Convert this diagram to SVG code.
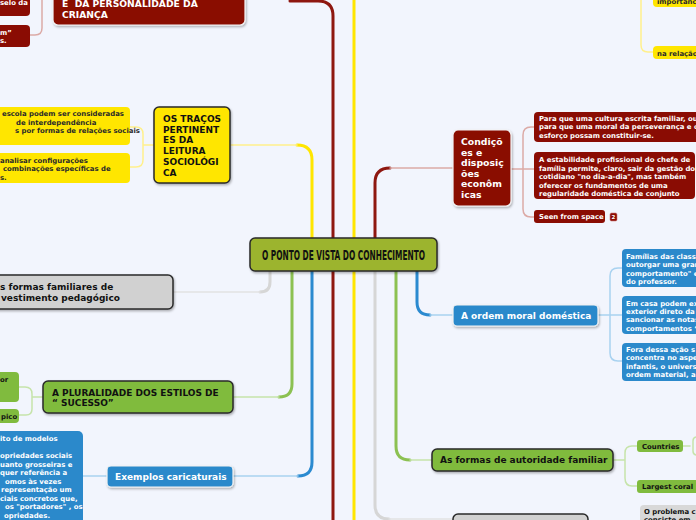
<svg xmlns="http://www.w3.org/2000/svg" width="696" height="520" viewBox="0 0 696 520">
<defs>
<filter id="sh" x="-10%" y="-10%" width="130%" height="140%"><feDropShadow dx="1" dy="1.5" stdDeviation="1" flood-color="#000" flood-opacity="0.3"/></filter>
<style>
.t{font-family:"DejaVu Sans",Verdana,sans-serif;font-weight:bold}
.m{font-size:9px}
.s{font-size:6.9px}
.w{fill:#fff}
.k{fill:#111}
.d{fill:#2a2a2a}
.c{fill:none;stroke-linecap:round}
.yT{stroke:#ffe600;stroke-width:3}
.yL{stroke:#fff08c;stroke-width:1.5}
.rT{stroke:#8e1710;stroke-width:3}
.rL{stroke:#dcaaa6;stroke-width:1.5}
.gT{stroke:#8cc152;stroke-width:3}
.gL{stroke:#c6e4aa;stroke-width:1.5}
.bT{stroke:#2b8ad0;stroke-width:3}
.bL{stroke:#a9d2f0;stroke-width:1.5}
.aT{stroke:#d6d6d6;stroke-width:3}
.aL{stroke:#e2e2e2;stroke-width:1.5}
.red{fill:#8a0c03}
.yel{fill:#ffe600}
.grn{fill:#80bb3e}
.blu{fill:#2b89cb}
.gry{fill:#d1d1d1}
.mainb{stroke:#2a2a2a;stroke-width:1.5}
.mainw{stroke:#f4f4f4;stroke-width:1.2}
</style>
</defs>
<rect x="0" y="0" width="696" height="520" fill="#f2f5fd"/>

<g id="connectors">
  <!-- through lines -->
  <path class="c rT" d="M290,1 H318 Q333,1 333,16 V522"/>
  <path class="c yT" d="M354,-2 V522"/>
  <!-- central branches -->
  <path class="c yT" d="M312,238 V160 Q312,145 297,145"/>
  <path class="c yL" d="M297,145 H230"/>
  <path class="c rT" d="M375,238 V183 Q375,168 390,168"/>
  <path class="c rL" d="M390,168 H453"/>
  <path class="c aT" d="M270,271 V282 Q270,292 260,292"/>
  <path class="c aL" d="M260,292 H173"/>
  <path class="c gT" d="M292,271 V384 Q292,397 279,397"/>
  <path class="c gL" d="M279,397 H233"/>
  <path class="c bT" d="M312,271 V462 Q312,476 298,476"/>
  <path class="c bL" d="M298,476 H233"/>
  <path class="c gT" d="M396,271 V446 Q396,460 410,460"/>
  <path class="c gL" d="M410,460 H432"/>
  <path class="c bT" d="M417,271 V302 Q417,315 430,315"/>
  <path class="c bL" d="M430,315 H453"/>
  <path class="c aT" d="M375,271 V505 Q375,519 389,519"/>
  <path class="c aL" d="M389,519 H453"/>
  <!-- child brackets -->
  <path class="c rL" d="M42,-2 V28 Q42,35 35,35 H30"/>
  <path class="c yL" d="M154,145 H143 M143,145 V134 Q143,127 136,127 H130 M143,145 V160 Q143,167 136,167 H130"/>
  <path class="c gL" d="M43,397 H32 M32,397 V394 Q32,387 25,387 H19 M32,397 V409 Q32,415 26,415 H19"/>
  <path class="c bL" d="M107,476 H83"/>
  <path class="c yL" d="M641,-2 V45 Q641,52 648,52 H653"/>
  <path class="c rL" d="M511,169 H534 M523,169 V135 Q523,127 531,127 H534 M523,169 V209 Q523,217 531,217 H534"/>
  <path class="c bL" d="M598,315 H622 M610,315 V276 Q610,268 618,268 H622 M610,315 V353 Q610,361 618,361 H622"/>
  <path class="c gL" d="M613,460 H625 M625,460 V453 Q625,446 632,446 H637 M625,460 V478 Q625,486 632,486 H637"/>
  <path class="c gL" d="M683,446 H690 M697,437 Q693,437 693,441 V451 Q693,455 697,455"/>
</g>

<g id="central">
  <rect x="250" y="238" width="187" height="33" rx="5" fill="#9cb42e" class="mainb" filter="url(#sh)"/>
  <text x="262" y="260" textLength="163" lengthAdjust="spacingAndGlyphs" style="font-family:'Liberation Sans Narrow','DejaVu Sans Condensed',sans-serif;font-weight:bold;font-size:13.5px;font-stretch:condensed" fill="#111">O PONTO DE VISTA DO CONHECIMENTO</text>
</g>

<g id="personalidade">
  <rect x="53" y="-20" width="192" height="45" rx="5" class="red mainw" filter="url(#sh)"/>
  <text class="t w" style="font-size:9.2px" x="62" y="7.3">E&#160; DA PERSONALIDADE DA</text>
  <text class="t w" style="font-size:9.2px" x="62" y="18.3">CRIANÇA</text>
</g>
<g id="selo">
  <rect x="-10" y="-10" width="40" height="26" rx="4" class="red"/>
  <text class="t s w" x="0" y="5">selo da</text>
</g>
<g id="m-node">
  <rect x="-10" y="25" width="40" height="22" rx="4" class="red"/>
  <text class="t s w" x="0" y="34.5">m”</text>
  <text class="t s w" x="0" y="42.5">s.</text>
</g>

<g id="tracos">
  <rect x="154" y="107" width="76" height="76" rx="5" class="yel mainb" filter="url(#sh)"/>
  <text class="t m k" x="163" y="121.7">OS TRAÇOS</text>
  <text class="t m k" x="163" y="132.5">PERTINENT</text>
  <text class="t m k" x="163" y="143.3">ES DA</text>
  <text class="t m k" x="163" y="154.1">LEITURA</text>
  <text class="t m k" x="163" y="164.9">SOCIOLÓGI</text>
  <text class="t m k" x="163" y="175.7">CA</text>
</g>
<g id="tracos-a">
  <rect x="-10" y="107" width="140" height="38" rx="4" class="yel"/>
  <text class="t s d" x="2" y="116">escola podem ser consideradas</text>
  <text class="t s d" x="16" y="124.5">de interdependência</text>
  <text class="t s d" x="15" y="133">s por formas de relações sociais</text>
</g>
<g id="tracos-b">
  <rect x="-10" y="153" width="140" height="30" rx="4" class="yel"/>
  <text class="t s d" x="0" y="162.5">analisar configurações</text>
  <text class="t s d" x="3" y="171">combinações específicas de</text>
  <text class="t s d" x="0" y="179.5">s.</text>
</g>

<g id="formas-familiares">
  <rect x="-10" y="275" width="183" height="34" rx="5" class="gry mainb" filter="url(#sh)"/>
  <text class="t m k" x="0" y="289.5">s formas familiares de</text>
  <text class="t m k" x="1" y="300.7">vestimento pedagógico</text>
</g>

<g id="pluralidade">
  <rect x="43" y="381" width="190" height="32" rx="5" class="grn mainb" filter="url(#sh)"/>
  <text class="t m k" x="52" y="395.7">A PLURALIDADE DOS ESTILOS DE</text>
  <text class="t m k" x="52" y="406.4">“ SUCESSO”</text>
</g>
<g id="plur-a">
  <rect x="-10" y="372" width="29" height="30" rx="4" class="grn"/>
  <text class="t s k" x="0" y="382">or</text>
</g>
<g id="plur-b">
  <rect x="-10" y="409" width="29" height="14" rx="4" class="grn"/>
  <text class="t s k" x="1" y="419">pico</text>
</g>

<g id="exemplos">
  <rect x="107" y="466" width="126" height="21" rx="4" class="blu mainw" filter="url(#sh)"/>
  <text class="t m w" x="115" y="480">Exemplos caricaturais</text>
</g>
<g id="exemplos-a">
  <rect x="-10" y="431" width="93" height="100" rx="5" class="blu"/>
  <text class="t s w" x="0" y="441">ito de modelos</text>
  <text class="t s w" x="0" y="458">opriedades sociais</text>
  <text class="t s w" x="0" y="466.5">uanto grosseiras e</text>
  <text class="t s w" x="0" y="475">quer referência a</text>
  <text class="t s w" x="5" y="483.5">omos às vezes</text>
  <text class="t s w" x="1" y="492">representação um</text>
  <text class="t s w" x="0" y="500.5">ciais concretos que,</text>
  <text class="t s w" x="5" y="509">os "portadores" , os</text>
  <text class="t s w" x="4" y="517.5">opriedades.</text>
</g>

<g id="top-right-a">
  <rect x="653" y="-10" width="60" height="17" rx="4" class="yel"/>
  <text class="t s d" x="657" y="4">importanc</text>
</g>
<g id="top-right-b">
  <rect x="653" y="46" width="60" height="13" rx="4" class="yel"/>
  <text class="t s d" x="657" y="55.5">na relação</text>
</g>

<g id="condicoes">
  <rect x="453" y="130" width="58" height="76" rx="5" class="red mainw" filter="url(#sh)"/>
  <text class="t w" style="font-size:9.3px" x="461" y="145">Condiçõ</text>
  <text class="t w" style="font-size:9.3px" x="461" y="155.6">es e</text>
  <text class="t w" style="font-size:9.3px" x="461" y="166.2">disposiç</text>
  <text class="t w" style="font-size:9.3px" x="461" y="176.8">ões</text>
  <text class="t w" style="font-size:9.3px" x="461" y="187.4">econôm</text>
  <text class="t w" style="font-size:9.3px" x="461" y="198">icas</text>
</g>
<g id="cond-a">
  <rect x="534" y="112" width="175" height="30" rx="4" class="red"/>
  <text class="t s w" x="539" y="120.5">Para que uma cultura escrita familiar, ou</text>
  <text class="t s w" x="539" y="129">para que uma moral da perseverança e o</text>
  <text class="t s w" x="539" y="137.5">esforço possam constituir-se.</text>
</g>
<g id="cond-b">
  <rect x="534" y="152" width="161" height="47" rx="4" class="red"/>
  <text class="t s w" x="539" y="162.3">A estabilidade profissional do chefe de</text>
  <text class="t s w" x="539" y="170.7">família permite, claro, sair da gestão do</text>
  <text class="t s w" x="539" y="179.1">cotidiano "no dia-a-dia", mas também</text>
  <text class="t s w" x="539" y="187.5">oferecer os fundamentos de uma</text>
  <text class="t s w" x="539" y="195.9">regularidade doméstica de conjunto</text>
</g>
<g id="cond-c">
  <rect x="534" y="210" width="71" height="13" rx="3" class="red"/>
  <text class="t s w" x="539" y="219.3">Seen from space</text>
  <rect x="610" y="213" width="7" height="8" rx="1.5" class="red" stroke="#c77" stroke-width="0.6"/>
  <text class="t w" style="font-size:5.5px" x="613.5" y="219.2" text-anchor="middle">2</text>
</g>

<g id="ordem">
  <rect x="453" y="305" width="145" height="21" rx="4" class="blu mainw" filter="url(#sh)"/>
  <text class="t m w" x="461" y="319">A ordem moral doméstica</text>
</g>
<g id="ordem-a">
  <rect x="622" y="249" width="90" height="38" rx="4" class="blu"/>
  <text class="t s w" x="626" y="259">Famílias das class</text>
  <text class="t s w" x="626" y="267.4">outorgar uma gran</text>
  <text class="t s w" x="626" y="275.8">comportamento" e</text>
  <text class="t s w" x="626" y="284.2">do professor.</text>
</g>
<g id="ordem-b">
  <rect x="622" y="296" width="90" height="38" rx="4" class="blu"/>
  <text class="t s w" x="626" y="305.5">Em casa podem ex</text>
  <text class="t s w" x="626" y="313.9">exterior direto da</text>
  <text class="t s w" x="626" y="322.3">sancionar as notas</text>
  <text class="t s w" x="626" y="330.7">comportamentos “</text>
</g>
<g id="ordem-c">
  <rect x="622" y="343" width="90" height="38" rx="4" class="blu"/>
  <text class="t s w" x="626" y="352">Fora dessa ação s</text>
  <text class="t s w" x="626" y="360.4">concentra no aspe</text>
  <text class="t s w" x="626" y="368.8">infantis, o univers</text>
  <text class="t s w" x="626" y="377.2">ordem material, a</text>
</g>

<g id="autoridade">
  <rect x="432" y="449" width="181" height="22" rx="5" class="grn mainb" filter="url(#sh)"/>
  <text class="t m k" x="440" y="463.3">As formas de autoridade familiar</text>
</g>
<g id="countries">
  <rect x="637" y="440" width="46" height="12" rx="3" class="grn"/>
  <text class="t s k" x="642" y="448.5">Countries</text>
</g>
<g id="coral">
  <rect x="637" y="480" width="70" height="13" rx="3" class="grn"/>
  <text class="t s k" x="642" y="489">Largest coral</text>
</g>

<g id="bottom-gray">
  <rect x="453" y="514" width="135" height="30" rx="5" class="gry mainb"/>
</g>
<g id="problema">
  <rect x="640" y="505" width="70" height="30" rx="4" fill="#d8d8d8"/>
  <text class="t s k" x="644" y="513.5">O problema c</text>
  <text class="t s k" x="644" y="522">consiste em</text>
</g>
</svg>
